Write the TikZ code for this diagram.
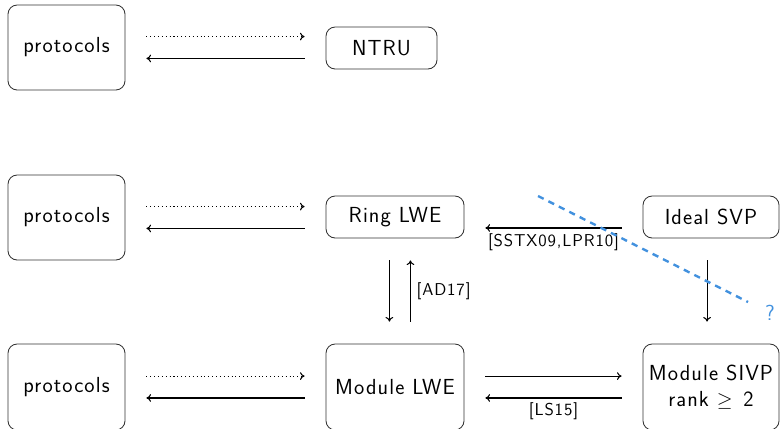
\documentclass[tikz,border=0pt]{standalone}
\usepackage{fontspec}
\setsansfont{Latin Modern Sans}[LetterSpace=5]
\usetikzlibrary{arrows.meta}
\definecolor{qblue}{RGB}{66,145,222}
\definecolor{boxgray}{RGB}{50,50,50}
\begin{document}
\begin{tikzpicture}[x=0.025cm,y=-0.025cm,
  font=\sffamily\fontsize{15.5}{18}\selectfont,
  box/.style={draw=boxgray,line width=0.6pt,rounded corners=6.5pt,inner sep=1pt,align=center},
  proto/.style={box,minimum width=117*0.025cm,minimum height=85*0.025cm},
  small/.style={box,minimum width=111*0.025cm,minimum height=42*0.025cm},
  wide/.style={box,minimum width=138*0.025cm,minimum height=42*0.025cm},
  tall/.style={box,minimum width=138*0.025cm,minimum height=86*0.025cm},
  arr/.style={-{To[length=3.3pt,width=5.5pt]},line width=0.75pt},
  darr/.style={arr,dotted},
  lab/.style={font=\sffamily\fontsize{12.2}{14}\selectfont,inner sep=1pt},
  hs/.style={shorten <=21*0.025cm,shorten >=21*0.025cm},
  vs/.style={shorten <=22*0.025cm,shorten >=22*0.025cm}]
\useasboundingbox (0,0) rectangle (780,428);

\node[proto] (p1) at (66.5,47.5) {protocols};
\node[small] (ntru) at (381.5,48) {NTRU};
\node[proto] (p2) at (66.5,217.5) {protocols};
\node[wide] (ring) at (395,217) {Ring LWE};
\node[box,minimum width=136*0.025cm,minimum height=42*0.025cm] (ideal) at (711,217) {Ideal SVP};
\node[proto,minimum height=86*0.025cm] (p3) at (66.5,387) {protocols};
\node[tall] (mlwe) at (395,387) {Module LWE};
\node[box,minimum width=136*0.025cm,minimum height=86*0.025cm] (msivp) at (711,387) {Module SIVP\\[1pt]rank $\geq$\enspace 2};

% row 1
\draw[darr,hs] ([yshift=7.8pt]p1.east) -- ([yshift=7.8pt]p1.east -| ntru.west);
\draw[arr,hs] ([yshift=-7.8pt]p1.east -| ntru.west) -- ([yshift=-7.8pt]p1.east);
% row 2
\draw[darr,hs] ([yshift=7.8pt]p2.east) -- ([yshift=7.8pt]p2.east -| ring.west);
\draw[arr,hs] ([yshift=-7.8pt]p2.east -| ring.west) -- ([yshift=-7.8pt]p2.east);
\draw[arr,hs] ([yshift=-7.8pt]ideal.west) -- node[lab,below=3pt] {[SSTX09,LPR10]} ([yshift=-7.8pt]ideal.west -| ring.east);
% vertical
\draw[arr,vs] ([xshift=-4pt]ring.south) -- ([xshift=-4pt]mlwe.north);
\draw[arr,vs] ([xshift=11pt]mlwe.north) -- node[lab,right=3pt] {[AD17]} ([xshift=11pt]ring.south);
\draw[arr,vs] ([xshift=-2.8pt]ideal.south) -- ([xshift=-2.8pt]msivp.north);
% row 3
\draw[darr,hs] ([yshift=7.8pt]p3.east) -- ([yshift=7.8pt]p3.east -| mlwe.west);
\draw[arr,hs] ([yshift=-7.8pt]p3.east -| mlwe.west) -- ([yshift=-7.8pt]p3.east);
\draw[arr,hs] ([yshift=7.8pt]mlwe.east) -- ([yshift=7.8pt]mlwe.east -| msivp.west);
\draw[arr,hs] ([yshift=-7.8pt]mlwe.east -| msivp.west) -- node[lab,below=2pt] {[LS15]} ([yshift=-7.8pt]mlwe.east);

% blue dashed
\coordinate (q1) at (538,196);
\coordinate (q2) at (748,302);
\draw[qblue,line width=1.7pt,dash pattern=on 4.5pt off 3.8pt] (q1) -- (q2);
\node[qblue,inner sep=0pt] (qm) at (770,313) {?};
\end{tikzpicture}
\end{document}
